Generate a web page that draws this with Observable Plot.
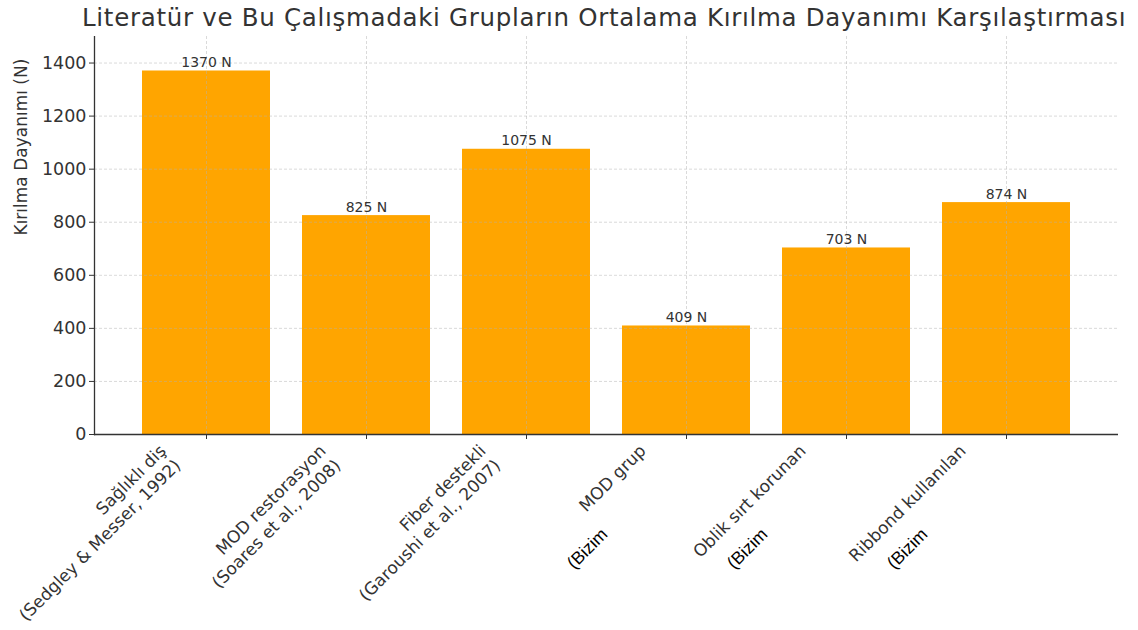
<!DOCTYPE html>
<html>
<head>
<meta charset="utf-8">
<script src="https://cdn.jsdelivr.net/npm/d3@7"></script>
<script src="https://cdn.jsdelivr.net/npm/@observablehq/plot@0.6"></script>
<style>
  html, body { margin: 0; padding: 0; background: #fff; }
  #title {
    margin-left: 82px; width: 1024px; height: 36px; line-height: 36px;
    text-align: center; white-space: nowrap;
    font-family: "DejaVu Sans", sans-serif; font-size: 24.5px; letter-spacing: 0.7px; color: #333;
  }
  #chart svg { display: block; }
</style>
</head>
<body>
<div id="title"></div>
<div id="chart"></div>
<script>
const titleText = "Literatür ve Bu Çalışmadaki Grupların Ortalama Kırılma Dayanımı Karşılaştırması";
const yLabel = "Kırılma Dayanımı (N)";
const categories = [
  "Sağlıklı diş\n(Sedgley & Messer, 1992)",
  "MOD restorasyon\n(Soares et al., 2008)",
  "Fiber destekli\n(Garoushi et al., 2007)",
  "MOD grup",
  "Oblik sırt korunan",
  "Ribbond kullanılan"
];
const values = [1370, 825, 1075, 409, 703, 874];
const notes = ["", "", "", "(Bizim", "(Bizim", "(Bizim"];
const yTicks = [0, 200, 400, 600, 800, 1000, 1200, 1400];
const valueUnit = " N";

document.getElementById("title").textContent = titleText;

const data = categories.map((c, i) => ({cat: c, val: values[i], note: notes[i]}));
const ink = "#333333";

const chart = Plot.plot({
  width: 1138,
  height: 594,
  marginTop: 0,
  marginLeft: 94,
  marginRight: 20,
  marginBottom: 196,
  style: {fontFamily: "DejaVu Sans, sans-serif", background: "#fff"},
  x: {type: "band", domain: categories, paddingInner: 0.2, paddingOuter: 0.29, align: 0.5, axis: null},
  y: {domain: [0, 1500], axis: null},
  marks: [
    Plot.barY(data, {x: "cat", y: "val", fill: "#FFA500"}),
    Plot.gridY(yTicks, {stroke: "#b0b0b0", strokeOpacity: 0.6, strokeDasharray: "3,2", strokeWidth: 0.8}),
    Plot.gridX(categories, {stroke: "#b0b0b0", strokeOpacity: 0.6, strokeDasharray: "3,2", strokeWidth: 0.8}),
    Plot.axisY(yTicks, {tickSize: 5, tickPadding: 3, fontSize: 17.5, stroke: ink, fill: ink, label: null, tickFormat: d => String(d)}),
    Plot.axisX(categories, {tickSize: 5, tickFormat: () => "", stroke: ink, label: null}),
    Plot.ruleY([0], {stroke: ink, strokeWidth: 1.3}),
    Plot.frame({anchor: "left", stroke: ink, strokeWidth: 1.3}),
    Plot.text([yLabel], {frameAnchor: "left", rotate: -90, dx: -73, fontSize: 17, fill: ink}),
    Plot.text(data, {x: "cat", y: "val", text: d => d.val + valueUnit, lineAnchor: "bottom", dy: -4, fontSize: 14, fill: ink}),
    Plot.text(data, {x: "cat", frameAnchor: "bottom", text: "cat", rotate: -45, textAnchor: "end", lineAnchor: "top",
      dx: -50, dy: 7, fontSize: 17, lineHeight: 1.22, fill: ink}),
    Plot.text(data.filter(d => d.note), {x: "cat", frameAnchor: "bottom", text: "note", rotate: -45, textAnchor: "end",
      lineAnchor: "middle", dx: -82, dy: 97, fontSize: 17.5, fontFamily: "Liberation Sans, Arial, sans-serif", fill: "#000"})
  ]
});
document.getElementById("chart").appendChild(chart);
</script>
</body>
</html>
